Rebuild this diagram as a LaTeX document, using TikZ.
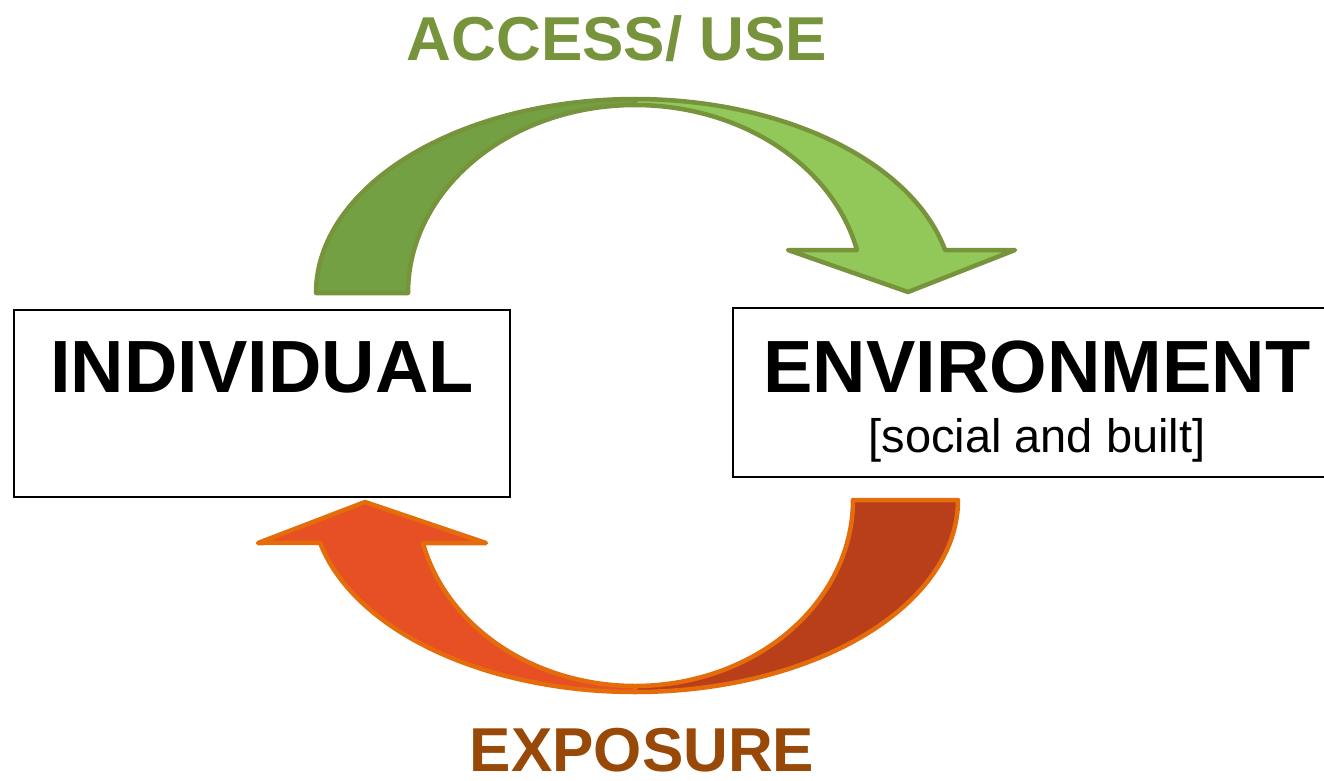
\documentclass[tikz,border=0pt]{standalone}
\usepackage{fontspec}
\setmainfont{Liberation Sans}
\begin{document}
\definecolor{greenline}{HTML}{77933C}
\definecolor{greendark}{HTML}{72A043}
\definecolor{greenlight}{HTML}{92C85A}
\definecolor{orangeline}{HTML}{E46C0A}
\definecolor{orangelight}{HTML}{E65024}
\definecolor{orangedark}{HTML}{B93F1B}
\definecolor{exposuretext}{HTML}{984807}
\begin{tikzpicture}[x=1pt,y=-1pt,
  box/.style={draw=black,line width=2pt,fill=white,inner sep=0pt},
  bandgreen/.style={draw=greenline,line width=4.5pt,line join=round},
  bandorange/.style={draw=orangeline,line width=4.5pt,line join=round},
  bigword/.style={font=\fontsize{74}{80}\selectfont\bfseries,anchor=base,inner sep=0pt},
  subword/.style={font=\fontsize{47}{52}\selectfont,anchor=base,inner sep=0pt},
  arrowword/.style={font=\fontsize{62}{68}\selectfont\bfseries,anchor=base,inner sep=0pt,text depth=0pt}]
\useasboundingbox (0,0) rectangle (1324,780);
\clip (0,0) rectangle (1324,780);

% boxes
\node[box,minimum width=496pt,minimum height=187pt] (individual) at (261.5,403.5) {};
\node[box,minimum width=608pt,minimum height=169pt] (environment) at (1037,392.5) {};
\node[bigword] (indtext) at (262,392) {INDIVIDUAL};
\node[bigword] (envtext) at (1037,392) {ENVIRONMENT};
\node[subword] (envsub) at (1037,452) {[social and built]};

% access / use arrow: back half
\fill[greendark,bandgreen]
  plot[domain=180:90,samples=60,variable=\t] ({635+319*cos(\t)},{293-194*sin(\t)})
  -- plot[domain=90:180,samples=60,variable=\t] ({635+227*cos(\t)},{293-188*sin(\t)})
  -- cycle;
% access / use arrow: front half with head
\fill[greenlight,bandgreen]
  plot[domain=90:12.8,samples=60,variable=\t] ({635+318*cos(\t)},{293-194*sin(\t)})
  -- (1015,250) -- (908,292) -- (788,250) -- (857,250)
  -- plot[domain=13.2:90,samples=60,variable=\t] ({635+228*cos(\t)},{293-188*sin(\t)})
  -- cycle;

% exposure arrow: back half
\fill[orangedark,bandorange]
  plot[domain=0:-90,samples=60,variable=\t] ({635+323*cos(\t)},{500-192*sin(\t)})
  -- plot[domain=-90:0,samples=60,variable=\t] ({635+218*cos(\t)},{500-186*sin(\t)})
  -- cycle;
% exposure arrow: front half with head
\fill[orangelight,bandorange]
  plot[domain=-90:-167.1,samples=60,variable=\t] ({635+323*cos(\t)},{500-192*sin(\t)})
  -- (258,543) -- (365,502) -- (486,543) -- (423,543)
  -- plot[domain=-166.6:-90,samples=60,variable=\t] ({635+218*cos(\t)},{500-186*sin(\t)})
  -- cycle;

% arrow labels
\node[arrowword,text=greenline] (access) at (617,60) {ACCESS/ USE};
\node[arrowword,text=exposuretext] (exposure) at (642,771) {EXPOSURE};
\end{tikzpicture}
\end{document}
